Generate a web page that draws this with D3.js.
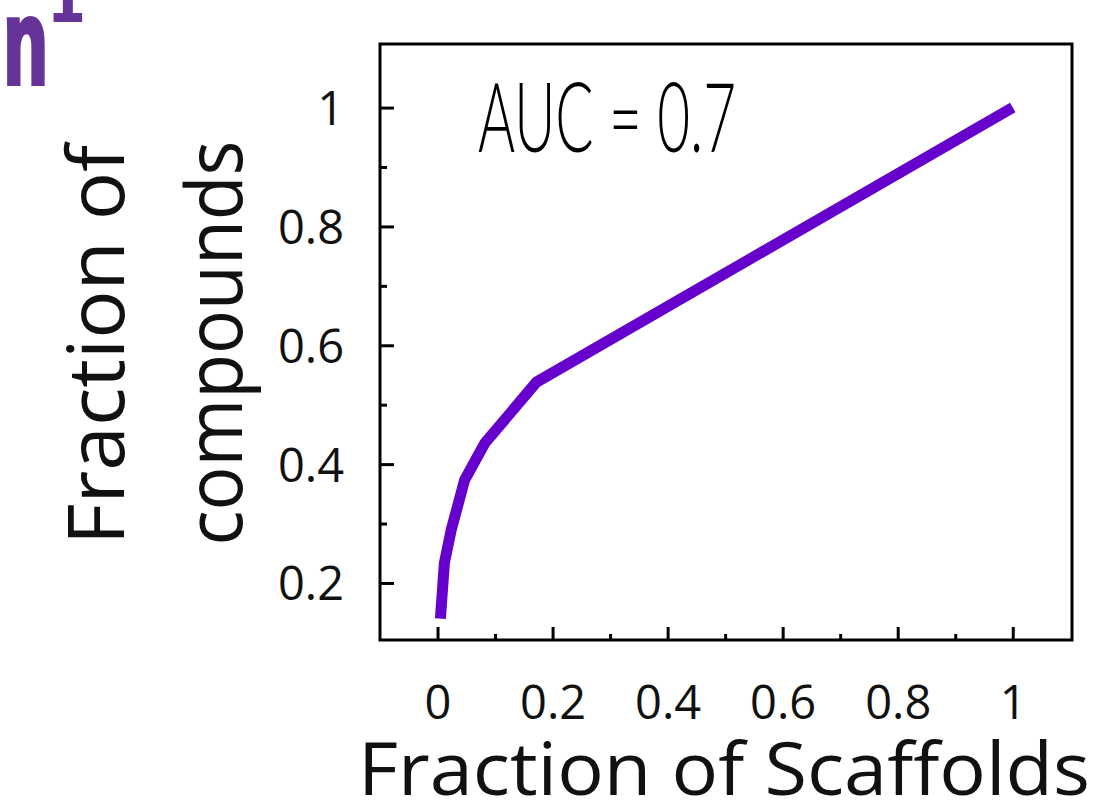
<!DOCTYPE html>
<html>
<head>
<meta charset="utf-8">
<script src="https://cdn.jsdelivr.net/npm/d3@7"></script>
<style>
  body { margin: 0; background: #fff; }
  svg { display: block; }
</style>
</head>
<body>
<div id="chart"></div>
<script>
// data
const fracScaffolds = [0.005, 0.012, 0.024, 0.047, 0.082, 0.172, 1.0];
const fracCompounds = [0.14, 0.234, 0.29, 0.373, 0.435, 0.538, 1.0];
const xMajorTicks = [0, 0.2, 0.4, 0.6, 0.8, 1];
const xMinorTicks = [0.1, 0.3, 0.5, 0.7, 0.9];
const yMajorTicks = [0.2, 0.4, 0.6, 0.8, 1];
const yMinorTicks = [0.3, 0.5, 0.7, 0.9];
const aucLabel = "AUC = 0.7";

var w = 1100, h = 810;
// plot box edges (avoid "top", it is window.top)
var pLeft = 380, pRight = 1072, pTop = 44, pBottom = 640;

var svg = d3.select("#chart").append("svg").attr("width", w).attr("height", h);

var x = d3.scaleLinear().domain([-0.1, 1.103]).range([pLeft, pRight]);
var y = d3.scaleLinear().domain([0.104, 1.107]).range([pBottom, pTop]);

var fmt = function(d){ return d === 0 ? "0" : (d === 1 ? "1" : d3.format(".1f")(d)); };

// minor ticks (inward)
var xMinor = d3.axisBottom(x).tickValues(xMinorTicks).tickSize(-6).tickFormat("");
var yMinor = d3.axisLeft(y).tickValues(yMinorTicks).tickSize(-7).tickFormat("");
svg.append("g").attr("transform", "translate(0," + pBottom + ")").call(xMinor);
svg.append("g").attr("transform", "translate(" + pLeft + ",0)").call(yMinor);

// major ticks
var xAxis = d3.axisBottom(x).tickValues(xMajorTicks).tickSize(-13).tickPadding(46).tickFormat(fmt);
var yAxis = d3.axisLeft(y).tickValues(yMajorTicks).tickSize(-14).tickPadding(36).tickFormat(fmt);
var gx = svg.append("g").attr("transform", "translate(0," + pBottom + ")").call(xAxis);
var gy = svg.append("g").attr("transform", "translate(" + pLeft + ",0)").call(yAxis);

svg.selectAll(".domain").remove();
svg.selectAll(".tick line").attr("stroke", "#000").attr("stroke-width", 3);
[gx, gy].forEach(function(g){
  g.selectAll("text").attr("fill", "#111")
    .style("font-family", "'Open Sans', sans-serif").style("font-size", "47px");
});
gy.selectAll("text").attr("dy", "0.36em");

// frame
svg.append("rect").attr("x", pLeft).attr("y", pTop)
  .attr("width", pRight - pLeft).attr("height", pBottom - pTop)
  .attr("fill", "none").attr("stroke", "#000").attr("stroke-width", 3);

// curve
var line = d3.line()
  .x(function(d){ return x(d[0]); })
  .y(function(d){ return y(d[1]); });
svg.append("path")
  .datum(d3.zip(fracScaffolds, fracCompounds))
  .attr("d", line)
  .attr("fill", "none")
  .attr("stroke", "#6600cc")
  .attr("stroke-width", 11)
  .attr("stroke-linejoin", "round");

// AUC annotation
svg.append("text").attr("x", 478).attr("y", 152)
  .attr("textLength", 258).attr("lengthAdjust", "spacingAndGlyphs")
  .style("font-family", "Lato, 'Liberation Sans', sans-serif").style("font-weight", "300")
  .style("font-size", "96px")
  .attr("fill", "#000").text(aucLabel);

// axis titles
svg.append("text").attr("x", 724).attr("y", 795).attr("text-anchor", "middle")
  .attr("textLength", 732).attr("lengthAdjust", "spacingAndGlyphs")
  .style("font-family", "'Open Sans', sans-serif").style("font-size", "73px")
  .attr("fill", "#111").text("Fraction of Scaffolds");
svg.append("text").attr("transform", "translate(124,345) rotate(-90)").attr("text-anchor", "middle")
  .attr("textLength", 400).attr("lengthAdjust", "spacingAndGlyphs")
  .style("font-family", "'Open Sans', sans-serif").style("font-size", "78px")
  .attr("fill", "#111").text("Fraction of");
svg.append("text").attr("transform", "translate(242,343) rotate(-90)").attr("text-anchor", "middle")
  .attr("textLength", 405).attr("lengthAdjust", "spacingAndGlyphs")
  .style("font-family", "'Open Sans', sans-serif").style("font-size", "78px")
  .attr("fill", "#111").text("compounds");

// cropped panel label fragment in the corner
svg.append("text").attr("transform", "translate(4,83) scale(0.6,1)")
  .style("font-family", "'Liberation Sans', Arial, sans-serif").style("font-weight", "bold")
  .style("font-size", "118px").attr("fill", "#663399")
  .attr("stroke", "#663399").attr("stroke-width", 6).text("n");
svg.append("text").attr("transform", "translate(47,22) scale(0.8,1)")
  .style("font-family", "'DejaVu Sans', sans-serif").style("font-weight", "bold")
  .style("font-size", "70px").attr("fill", "#663399").text("1");
</script>
</body>
</html>
